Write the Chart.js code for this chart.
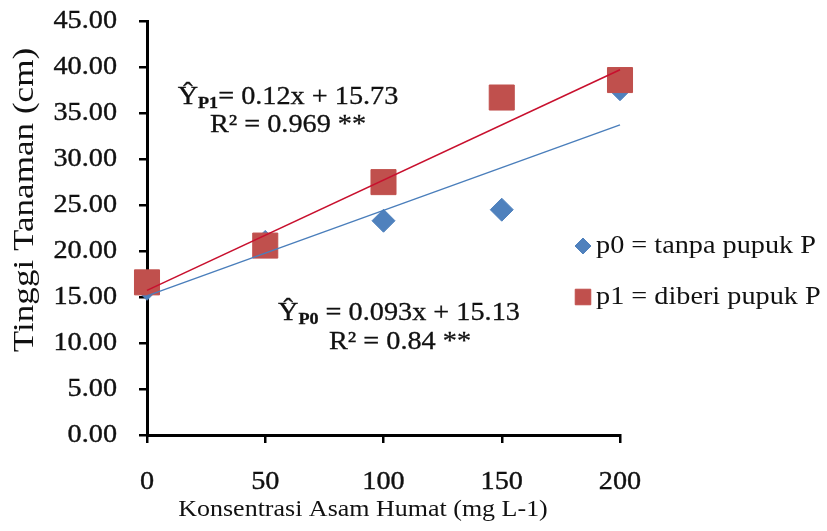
<!DOCTYPE html>
<html>
<head>
<meta charset="utf-8">
<script src="https://cdn.jsdelivr.net/npm/chart.js@4/dist/chart.umd.min.js"></script>
<style>
html,body{margin:0;padding:0;background:#fff;}
canvas{display:block;}
</style>
</head>
<body>
<canvas id="c" width="827" height="531"></canvas>
<script>
// ---- data ----
const doses = [0, 50, 100, 150, 200];
const p0Values = [15.9, 21.0, 23.3, 24.5, 37.6];
const p1Values = [16.6, 20.6, 27.5, 36.7, 38.6];
const trendSlopes = [0.093, 0.12];      // p0, p1
const trendIntercepts = [15.13, 15.73]; // p0, p1
const xTickValues = [0, 50, 100, 150, 200];
const yMin = 0, yMax = 45, yStep = 5;
const legendLabels = ['p0 = tanpa pupuk P', 'p1 = diberi pupuk P'];
const xTitle = 'Konsentrasi Asam Humat (mg L-1)';
const yTitle = 'Tinggi Tanaman (cm)';
const eqP1 = ['Ŷ', 'P1', '= 0.12x + 15.73', 'R² = 0.969 **'];
const eqP0 = ['Ŷ', 'P0', ' = 0.093x + 15.13', 'R² = 0.84 **'];

// ---- styles ----
const SERIF = '"Liberation Serif", "Times New Roman", serif';
const TXT = '#111';
const BLUE = '#4f81bd', RED = '#c0504d';
const BLUE_LINE = '#4a7ebb', RED_LINE = '#c8102e';
const SX = 1.13; // horizontal stretch of the lettering

const pts = vals => doses.map((d, i) => ({x: d, y: vals[i]}));
const trendPts = k => [doses[0], doses[doses.length - 1]].map(x => ({x, y: trendIntercepts[k] + trendSlopes[k] * x}));

function runsWidth(ctx, runs){
  let t = 0;
  runs.forEach(r => { ctx.font = r.font; r.w = ctx.measureText(r.text).width; t += r.w; });
  return t;
}
// draw text runs, stretched along the writing direction
function drawRuns(ctx, x, y, runs, align, sx, rot, weight){
  ctx.save();
  const total = runsWidth(ctx, runs);
  ctx.translate(x, y);
  if (rot) ctx.rotate(rot);
  ctx.scale(sx, 1);
  let cx = align === 'center' ? -total / 2 : align === 'right' ? -total : 0;
  ctx.textAlign = 'left';
  ctx.fillStyle = TXT;
  ctx.strokeStyle = TXT;
  ctx.lineWidth = weight || 0;
  runs.forEach(r => {
    ctx.font = r.font;
    ctx.textBaseline = r.base || 'middle';
    ctx.fillText(r.text, cx, r.dy || 0);
    if (weight) ctx.strokeText(r.text, cx, r.dy || 0);
    cx += r.w;
  });
  ctx.restore();
}

const textPlugin = {
  id: 'texts',
  afterDraw(chart){
    const ctx = chart.ctx;
    const xs = chart.scales.x, ys = chart.scales.y;
    const tickFont = '25px ' + SERIF;
    ys.ticks.forEach(t => {
      drawRuns(ctx, 117, ys.getPixelForValue(t.value), [{text: Number(t.value).toFixed(2), font: tickFont}], 'right', SX, 0, 0.35);
    });
    xs.ticks.forEach(t => {
      drawRuns(ctx, xs.getPixelForValue(t.value), 482, [{text: String(t.value), font: tickFont}], 'center', SX, 0, 0.35);
    });
    drawRuns(ctx, 363, 510, [{text: xTitle, font: '23px ' + SERIF}], 'center', SX, 0, 0);
    drawRuns(ctx, 25, 200, [{text: yTitle, font: '30px ' + SERIF}], 'center', 1.17, -Math.PI / 2, 0);
    const main = '25px ' + SERIF, sub = 'bold 16px ' + SERIF;
    drawRuns(ctx, 288, 104, [{text: eqP1[0], font: main, base: 'alphabetic'}, {text: eqP1[1], font: sub, dy: 4, base: 'alphabetic'}, {text: eqP1[2], font: main, base: 'alphabetic'}], 'center', SX, 0, 0.3);
    drawRuns(ctx, 288, 132, [{text: eqP1[3], font: main, base: 'alphabetic'}], 'center', SX, 0, 0.3);
    drawRuns(ctx, 399, 320, [{text: eqP0[0], font: main, base: 'alphabetic'}, {text: eqP0[1], font: sub, dy: 4, base: 'alphabetic'}, {text: eqP0[2], font: main, base: 'alphabetic'}], 'center', SX, 0, 0.3);
    drawRuns(ctx, 400, 349, [{text: eqP0[3], font: main, base: 'alphabetic'}], 'center', SX, 0, 0.3);
    const rows = [
      {label: legendLabels[0], style: 'rectRot', r: 8, color: BLUE, y: 246},
      {label: legendLabels[1], style: 'rect', r: 11, color: RED, y: 297}
    ];
    rows.forEach(row => {
      ctx.save();
      ctx.fillStyle = row.color;
      ctx.strokeStyle = row.color;
      Chart.helpers.drawPoint(ctx, {pointStyle: row.style, radius: row.r, rotation: 0, borderWidth: 1}, 583, row.y);
      ctx.restore();
      drawRuns(ctx, 596, row.y, [{text: row.label, font: '25px ' + SERIF}], 'left', SX, 0, 0);
    });
  }
};

new Chart(document.getElementById('c').getContext('2d'), {
  type: 'scatter',
  data: {
    datasets: [
      {label: 'trend p1', data: trendPts(1), showLine: true, borderColor: RED_LINE, borderWidth: 1.6, pointRadius: 0, order: 0, clip: false},
      {label: 'trend p0', data: trendPts(0), showLine: true, borderColor: BLUE_LINE, borderWidth: 1.4, pointRadius: 0, order: 0, clip: false},
      {label: legendLabels[1], data: pts(p1Values), pointStyle: 'rect', pointRadius: 17.7, backgroundColor: RED, borderColor: RED, borderWidth: 1, order: 1, clip: false},
      {label: legendLabels[0], data: pts(p0Values), pointStyle: 'rectRot', pointRadius: 11.5, backgroundColor: BLUE, borderColor: BLUE, borderWidth: 1, order: 2, clip: false}
    ]
  },
  options: {
    responsive: false,
    animation: false,
    devicePixelRatio: 1,
    layout: {padding: {left: 0, right: 207, top: 20, bottom: 0}},
    plugins: {legend: {display: false}, tooltip: {enabled: false}},
    scales: {
      x: {
        type: 'linear', min: 0, max: 200,
        afterBuildTicks(s){ s.ticks = xTickValues.map(v => ({value: v})); },
        ticks: {autoSkip: false, maxRotation: 0, font: {family: SERIF, size: 10}, color: 'rgba(0,0,0,0)', padding: 22},
        grid: {display: true, drawOnChartArea: false, drawTicks: true, tickLength: 8, color: '#000', lineWidth: 2.5},
        border: {display: true, color: '#000', width: 3},
        title: {display: false},
        afterFit(s){ s.height = 96; }
      },
      y: {
        type: 'linear', min: yMin, max: yMax,
        ticks: {stepSize: yStep, autoSkip: false, font: {family: SERIF, size: 2}, color: 'rgba(0,0,0,0)', padding: 20, callback: v => Number(v).toFixed(2)},
        grid: {display: true, drawOnChartArea: false, drawTicks: true, tickLength: 8, color: '#000', lineWidth: 2.5},
        border: {display: true, color: '#000', width: 3},
        title: {display: false},
        afterFit(s){ s.width = 147; }
      }
    }
  },
  plugins: [textPlugin]
});
</script>
</body>
</html>
